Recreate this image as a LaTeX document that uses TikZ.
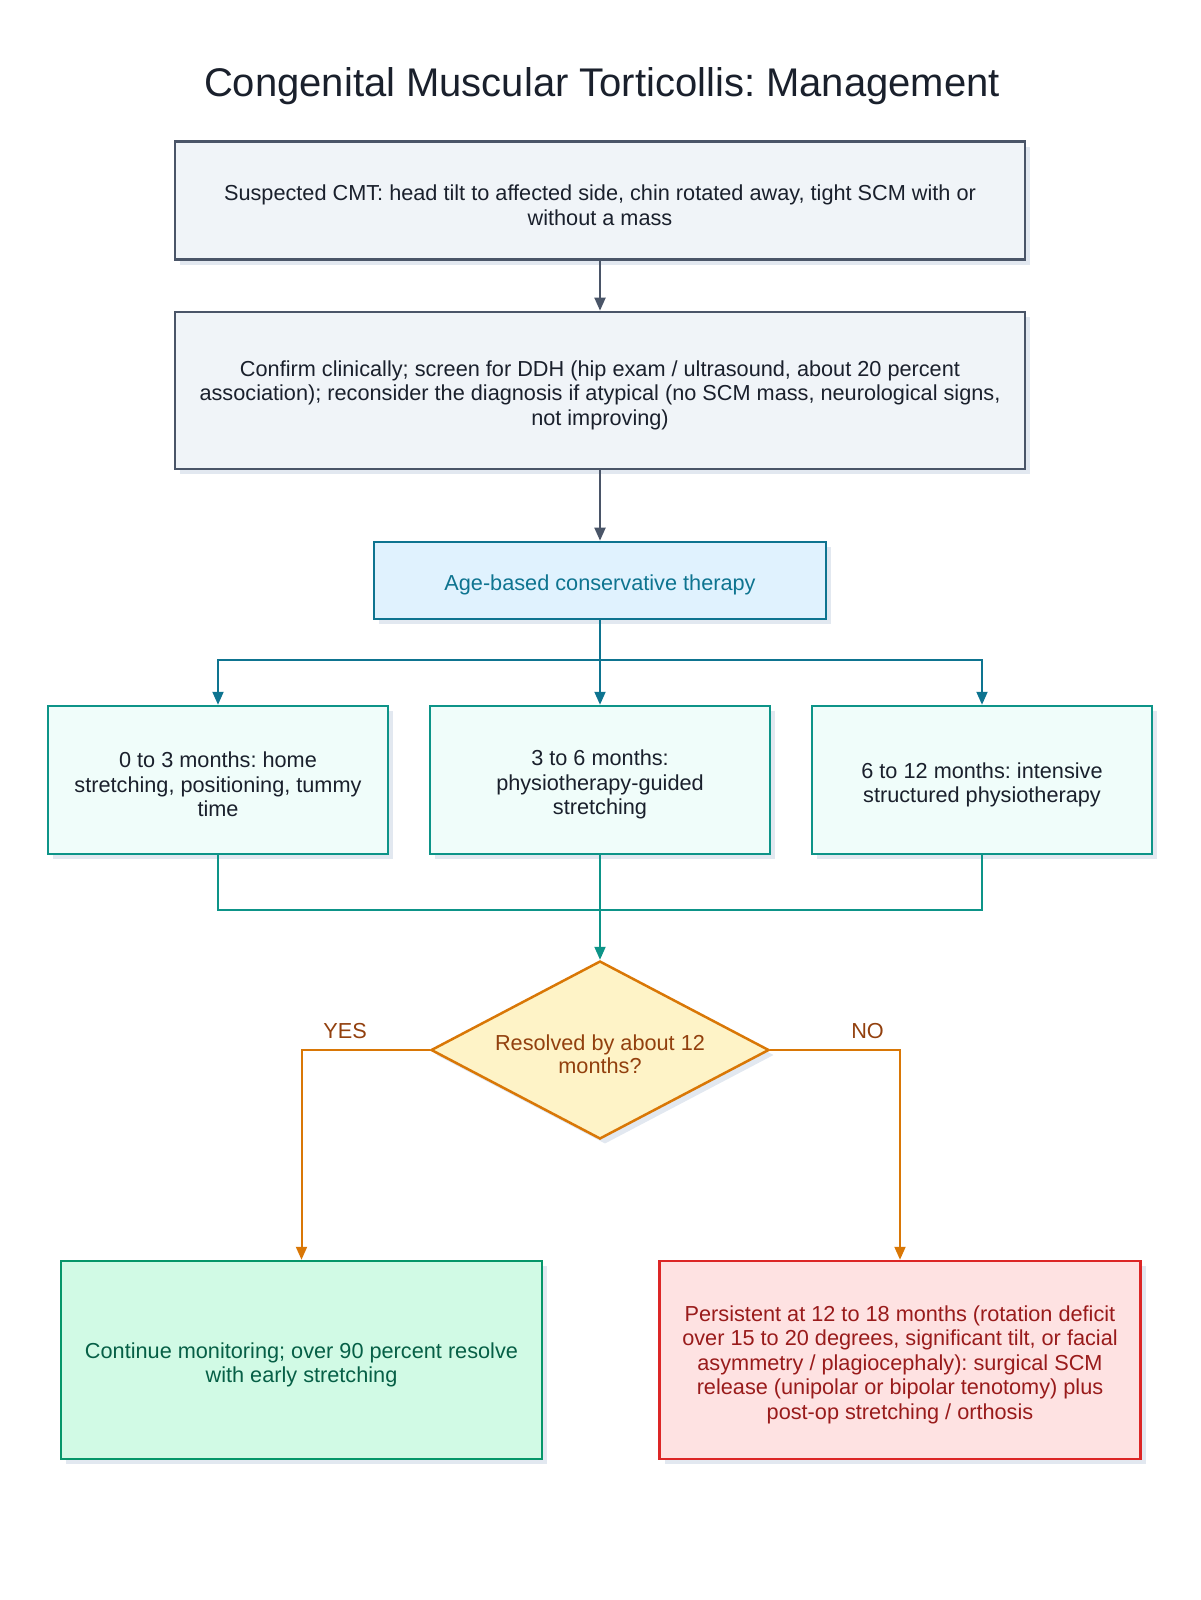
\documentclass[tikz,border=0pt]{standalone}
\usepackage{fontspec}
\setmainfont{Liberation Sans}
\usetikzlibrary{shapes.geometric,shadows,arrows.meta}
\definecolor{ink}{HTML}{1A202C}
\definecolor{slateline}{HTML}{4A5568}
\definecolor{slatefill}{HTML}{F0F4F8}
\definecolor{ageline}{HTML}{0E7490}
\definecolor{agefill}{HTML}{E0F2FE}
\definecolor{tealline}{HTML}{0D9488}
\definecolor{tealfill}{HTML}{F0FDFA}
\definecolor{askline}{HTML}{D97706}
\definecolor{askfill}{HTML}{FEF3C7}
\definecolor{asktext}{HTML}{92400E}
\definecolor{okline}{HTML}{059669}
\definecolor{okfill}{HTML}{D1FAE5}
\definecolor{oktext}{HTML}{065F46}
\definecolor{badline}{HTML}{DC2626}
\definecolor{badfill}{HTML}{FEE2E2}
\definecolor{badtext}{HTML}{991B1B}
\definecolor{shade}{HTML}{E2E8F0}
\newcommand{\lift}{\rule{0pt}{25pt}}% extra room above the first line
\frenchspacing
\begin{document}
\begin{tikzpicture}[x=1pt, y=-1pt,
    cell/.style={draw, line width=2.5pt, align=center, inner sep=0pt,
      font=\fontsize{21.7}{24.5}\selectfont,
      drop shadow={shadow xshift=5pt, shadow yshift=-5pt, fill=shade, opacity=1}},
    slatecell/.style={cell, draw=slateline, fill=slatefill, text=ink, minimum width=850pt},
    agecell/.style={cell, draw=ageline, fill=agefill, text=ageline},
    monthcell/.style={cell, draw=tealline, fill=tealfill, text=ink, minimum width=340pt, minimum height=148pt},
    endcell/.style={cell, minimum width=481pt, minimum height=198pt},
    conn/.style={line width=2pt, -{Triangle[length=13pt, width=11pt]}},
    plain/.style={line width=2pt},
    answer/.style={above=10pt, inner sep=0pt, text=asktext, font=\fontsize{21.7}{24.5}\selectfont}]
      \useasboundingbox (0,0) rectangle (1200,1600);
      %
      \node[font=\fontsize{40}{48}\selectfont, text=ink, anchor=base] (title) at (602,96.7)
        {Congenital Muscular Torticollis: Management};                      % title
      %
      \node[slatecell, minimum height=118pt] (suspect) at (600,200.6)
        {\lift Suspected CMT: head tilt to affected side, chin rotated away, tight SCM with or\\without a mass};
      \node[slatecell, minimum height=157pt] (confirm) at (600,390.4)
        {\lift Confirm clinically; screen for DDH (hip exam / ultrasound, about 20 percent\\association); reconsider the diagnosis if atypical (no SCM mass, neurological signs,\\not improving)};
      \node[agecell, minimum width=452pt, minimum height=77pt] (therapy) at (600,580.4)
        {\lift Age-based conservative therapy};
      %
      \node[monthcell] (early) at (218,780) {\lift 0 to 3 months: home\\stretching, positioning, tummy\\time};   % age rows
      \node[monthcell] (middle) at (600,780) {\lift 3 to 6 months:\\physiotherapy-guided\\stretching};
      \node[monthcell] (late) at (982,780) {\lift 6 to 12 months: intensive\\structured physiotherapy};
      %
      \node[cell, shape=diamond, aspect=1.9, draw=askline, fill=askfill, text=asktext,
        font=\fontsize{21.7}{23}\selectfont, minimum width=338pt, minimum height=178pt] (resolved) at (600,1050)
        {\lift Resolved by about 12\\months?};                             % decision
      %
      \node[endcell, draw=okline, fill=okfill, text=oktext] (monitor) at (301.5,1360)
        {\lift Continue monitoring; over 90 percent resolve\\with early stretching};
      \node[endcell, draw=badline, fill=badfill, text=badtext] (surgery) at (900,1360)
        {\lift Persistent at 12 to 18 months (rotation deficit\\over 15 to 20 degrees, significant tilt, or facial\\asymmetry / plagiocephaly): surgical SCM\\release (unipolar or bipolar tenotomy) plus\\post-op stretching / orthosis};
      %
      \coordinate (split) at (600,660);                                      % branch points
      \coordinate (join) at (600,910);
      %
      \draw[conn, slateline] (suspect) -- (confirm);                         % top chain
      \draw[conn, slateline] (confirm) -- (therapy);
      %
      \draw[plain, ageline] (therapy) -- (split);                            % fan out
      \draw[conn, ageline] (split) -| (early.north);
      \draw[conn, ageline] (split) -- (middle.north);
      \draw[conn, ageline] (split) -| (late.north);
      %
      \draw[plain, tealline] (early.south) |- (join);                        % fan in
      \draw[plain, tealline] (late.south) |- (join);
      \draw[conn, tealline] (middle.south) -- (resolved.north);
      %
      \draw[conn, askline] (resolved.west) -| node[pos=0.33, answer] {YES} (monitor.north);   % outcomes
      \draw[conn, askline] (resolved.east) -| node[pos=0.375, answer] {NO} (surgery.north);
      %
    \end{tikzpicture}
\end{document}
